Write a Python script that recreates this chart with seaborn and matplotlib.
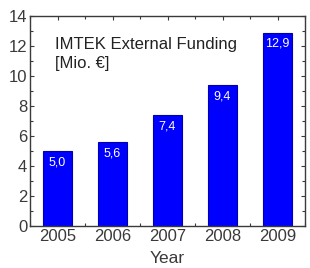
import numpy as np
import pandas as pd
import seaborn as sns
import matplotlib.pyplot as plt
from matplotlib.ticker import MultipleLocator

years = ["2005", "2006", "2007", "2008", "2009"]
funding = [5.0, 5.6, 7.4, 9.4, 12.9]
labels = ["5,0", "5,6", "7,4", "9,4", "12,9"]

df = pd.DataFrame({"Year": years, "Funding": funding})

sns.set_theme(style="ticks")
plt.rcParams['font.family'] = ['Liberation Sans', 'DejaVu Sans']
txt = "#3a3a3a"

fig = plt.figure(figsize=(3.1, 2.68), dpi=100)
ax = fig.add_axes([30/310, 1 - 226/268, 275/310, 210/268])

sns.barplot(data=df, x="Year", y="Funding", color="#0000ff", saturation=1,
            width=0.51, edgecolor="#0000b0", linewidth=0.8, ax=ax)

for i, (v, lab) in enumerate(zip(funding, labels)):
    ax.text(i, v - 0.35, lab, color="white", ha="center", va="top", fontsize=9)

ax.set_xlim(-0.476, 4.37)
ax.set_ylim(0, 14)
ax.yaxis.set_major_locator(MultipleLocator(2))
ax.yaxis.set_minor_locator(MultipleLocator(1))
ax.set_xticks(np.arange(-0.5, 4.6, 1.0), minor=True)
ax.tick_params(which="both", direction="in", top=True, right=True,
               colors=txt, labelsize=12, width=0.8, length=3, pad=2)
ax.tick_params(which="minor", length=2)
for s in ax.spines.values():
    s.set_color(txt)
    s.set_linewidth(1.0)
ax.set_xlabel("Year", color=txt, fontsize=12.5, labelpad=5)
ax.set_ylabel("")
ax.text(0.09, 0.9, "IMTEK External Funding\n[Mio. \u20ac]", transform=ax.transAxes,
        color="#222222", fontsize=12, va="top", ha="left", linespacing=1.35)

fig.savefig("out.png", dpi=100)
